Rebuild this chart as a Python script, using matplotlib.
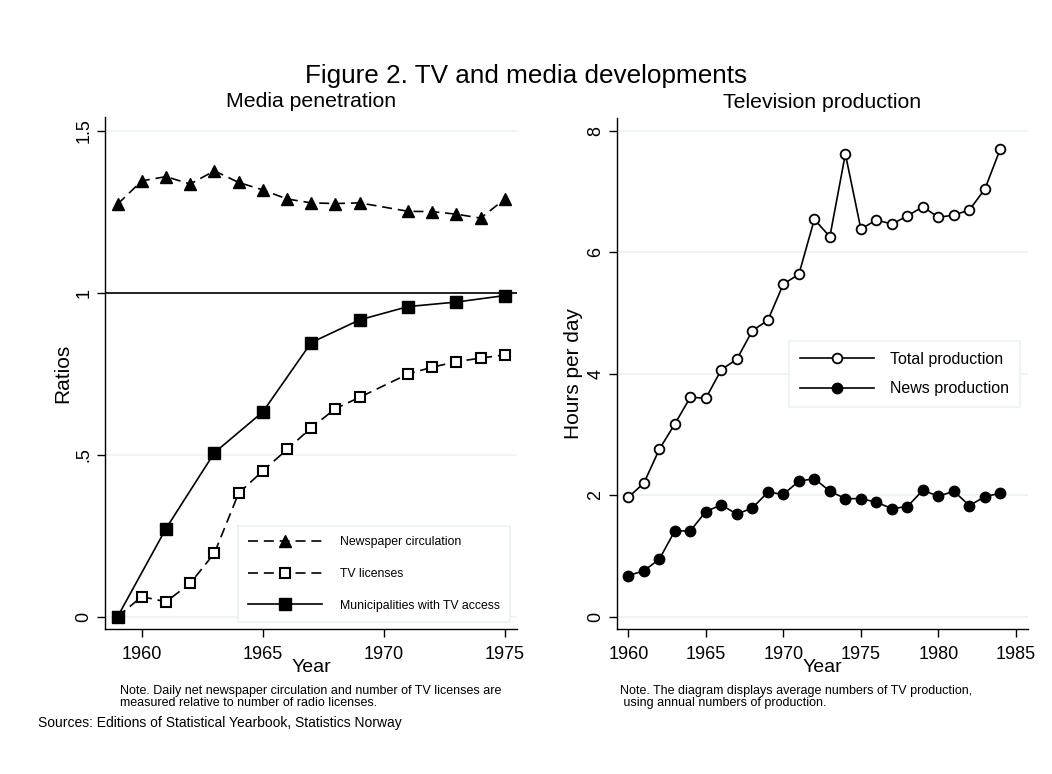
import matplotlib
matplotlib.use("Agg")
import matplotlib.pyplot as plt
import numpy as np

plt.rcParams['font.family'] = ['Liberation Sans', 'DejaVu Sans']

# left panel data (ratios to radio licenses)
years_paper = [1959, 1960, 1961, 1962, 1963, 1964, 1965, 1966, 1967, 1968, 1969,
               1971, 1972, 1973, 1974, 1975]
newspaper = [1.273, 1.345, 1.358, 1.335, 1.376, 1.340, 1.317, 1.289, 1.277, 1.275,
             1.277, 1.251, 1.250, 1.242, 1.230, 1.289]
tv_licenses = [0.0, 0.062, 0.046, 0.103, 0.196, 0.381, 0.450, 0.516, 0.583, 0.642,
               0.677, 0.749, 0.770, 0.787, 0.798, 0.808]
years_muni = [1959, 1961, 1963, 1965, 1967, 1969, 1971, 1973, 1975]
municipalities = [0.0, 0.272, 0.506, 0.632, 0.846, 0.916, 0.957, 0.971, 0.991]

# right panel data (hours per day)
years_prod = list(range(1960, 1985))
total_prod = [1.965, 2.196, 2.755, 3.172, 3.611, 3.595, 4.066, 4.237, 4.708, 4.879,
              5.476, 5.636, 6.541, 6.255, 7.617, 6.382, 6.530, 6.464, 6.596, 6.749,
              6.574, 6.612, 6.695, 7.040, 7.704]
news_prod = [0.675, 0.752, 0.945, 1.411, 1.411, 1.729, 1.839, 1.685, 1.789, 2.047,
             2.014, 2.228, 2.272, 2.064, 1.942, 1.942, 1.883, 1.778, 1.811, 2.080,
             1.981, 2.064, 1.827, 1.975, 2.031]

grid_col = '#eaf2f3'


def style_axis(ax):
    for s in ['top', 'right']:
        ax.spines[s].set_visible(False)
    for s in ['left', 'bottom']:
        ax.spines[s].set_linewidth(1.0)
    ax.tick_params(direction='out', length=6, width=1, labelsize=13)
    ax.tick_params(axis='x', pad=6)
    ax.tick_params(axis='y', pad=3)
    ax.grid(axis='y', color=grid_col, linewidth=1.2)
    ax.set_axisbelow(True)
    for lab in ax.get_yticklabels():
        lab.set_rotation(90)
        lab.set_va('center')


fig = plt.figure(figsize=(10.52, 7.74), dpi=100)
fig.text(0.5, 1 - 76 / 774, 'Figure 2. TV and media developments', ha='center',
         va='center', fontsize=18.8)

# ---- left panel
ax1 = fig.add_axes([105 / 1052, 145 / 774, 412 / 1052, 512 / 774])
ax1.axhline(1, color='black', linewidth=1.2, zorder=2)
ax1.plot(years_paper, newspaper, color='black', linestyle=(0, (6, 3.5)), lw=1.2,
         marker='^', markersize=9, label='Newspaper circulation', zorder=3)
ax1.plot(years_paper, tv_licenses, color='black', linestyle=(0, (6, 3.5)), lw=1.2,
         marker='s', markersize=7, markerfacecolor='white', markeredgewidth=1.5,
         label='TV licenses', zorder=3)
ax1.plot(years_muni, municipalities, color='black', linestyle='-', lw=1.2,
         marker='s', markersize=9, label='Municipalities with TV access', zorder=3)
ax1.set_xlim(1958.48, 1975.5)
ax1.set_ylim(-0.038, 1.542)
ax1.set_xticks([1960, 1965, 1970, 1975])
ax1.set_yticks([0, 0.5, 1, 1.5])
ax1.set_yticklabels(['0', '.5', '1', '1.5'])
style_axis(ax1)
ax1.set_title('Media penetration', fontsize=15.3, pad=7)
ax1.set_ylabel('Ratios', fontsize=15, labelpad=2)
ax1.set_xlabel('Year', fontsize=14, labelpad=-3)
leg1 = ax1.legend(loc='lower right', bbox_to_anchor=(0.983, 0.0137), fontsize=8.8,
                  handlelength=6.1, handletextpad=1.4, labelspacing=1.6,
                  borderpad=0.85, fancybox=False, framealpha=1, borderaxespad=0)
leg1.get_frame().set_edgecolor(grid_col)
leg1.get_frame().set_linewidth(1.2)

# ---- right panel
ax2 = fig.add_axes([616.7 / 1052, 144.7 / 774, 411.6 / 1052, 511.3 / 774])
ax2.plot(years_prod, total_prod, color='black', lw=1.2, marker='o', markersize=7,
         markerfacecolor='white', markeredgewidth=1.3, label='Total production', zorder=3)
ax2.plot(years_prod, news_prod, color='black', lw=1.2, marker='o', markersize=7.5,
         label='News production', zorder=3)
ax2.set_xlim(1959.25, 1985.8)
ax2.set_ylim(-0.21, 8.21)
ax2.set_xticks([1960, 1965, 1970, 1975, 1980, 1985])
ax2.set_yticks([0, 2, 4, 6, 8])
style_axis(ax2)
ax2.set_title('Television production', fontsize=15.3, pad=7)
ax2.set_ylabel('Hours per day', fontsize=15, labelpad=3)
ax2.set_xlabel('Year', fontsize=14, labelpad=-3)
leg2 = ax2.legend(loc='lower right', bbox_to_anchor=(0.981, 0.434), fontsize=11.5,
                  handlelength=4.6, handletextpad=1.05, labelspacing=0.9,
                  borderpad=0.7, fancybox=False, framealpha=1, borderaxespad=0)
leg2.get_frame().set_edgecolor(grid_col)
leg2.get_frame().set_linewidth(1.2)

# notes
fig.text(120 / 1052, 1 - 697 / 774,
         'Note. Daily net newspaper circulation and number of TV licenses are\n'
         'measured relative to number of radio licenses.',
         fontsize=9, va='center', ha='left', linespacing=1.05)
fig.text(620 / 1052, 1 - 697 / 774,
         'Note. The diagram displays average numbers of TV production,\n'
         ' using annual numbers of production.',
         fontsize=9, va='center', ha='left', linespacing=1.05)
fig.text(38 / 1052, 1 - 723 / 774, 'Sources: Editions of Statistical Yearbook, Statistics Norway',
         fontsize=10, va='center', ha='left')

fig.savefig('out.png', dpi=100)
